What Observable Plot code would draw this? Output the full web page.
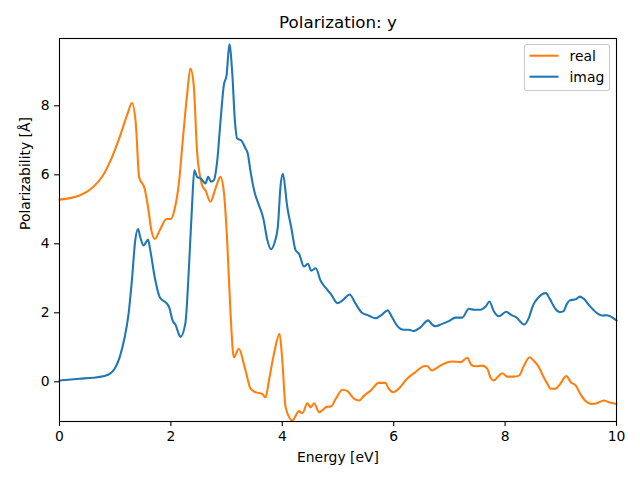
<!DOCTYPE html>
<html>
<head>
<meta charset="utf-8">
<script src="https://cdn.jsdelivr.net/npm/d3@7"></script>
<script src="https://cdn.jsdelivr.net/npm/@observablehq/plot@0.6"></script>
<style>
  html, body { margin: 0; padding: 0; background: #ffffff; }
  #chart { width: 640px; height: 480px; }
</style>
</head>
<body>
<div id="chart"></div>
<script>
const titleText = "Polarization: y";
const xLabelText = "Energy [eV]";
const yLabelText = "Polarizability [Å]";
const seriesNames = ["real", "imag"];
const seriesColors = ["#ff7f0e", "#1f77b4"];
const xTicks = [0, 2, 4, 6, 8, 10];
const yTicks = [0, 2, 4, 6, 8];

const energyReal = [0, 0.36, 0.60, 0.78, 0.93, 1.08, 1.23, 1.30, 1.37, 1.43, 1.53, 1.59, 1.65, 1.71, 1.80, 1.92, 2.00, 2.06, 2.15, 2.20, 2.29, 2.35, 2.41, 2.47, 2.56, 2.62, 2.71, 2.80, 2.89, 2.95, 3.01, 3.07, 3.13, 3.22, 3.31, 3.37, 3.43, 3.52, 3.64, 3.70, 3.76, 3.85, 3.95, 4.00, 4.06, 4.18, 4.30, 4.36, 4.45, 4.51, 4.57, 4.66, 4.81, 4.87, 4.96, 5.08, 5.17, 5.29, 5.38, 5.47, 5.59, 5.73, 5.85, 5.91, 5.99, 6.09, 6.24, 6.39, 6.54, 6.60, 6.68, 6.75, 6.87, 7.05, 7.20, 7.32, 7.39, 7.47, 7.59, 7.68, 7.74, 7.80, 7.86, 7.95, 8.04, 8.16, 8.25, 8.34, 8.44, 8.52, 8.59, 8.67, 8.76, 8.82, 8.90, 8.99, 9.10, 9.18, 9.27, 9.35, 9.47, 9.56, 9.65, 9.77, 9.86, 10.0];
const valuesReal = [5.28, 5.40, 5.64, 5.98, 6.46, 7.09, 7.81, 8.08, 7.48, 5.93, 5.59, 5.06, 4.39, 4.14, 4.39, 4.72, 4.72, 4.96, 5.85, 6.76, 8.31, 9.08, 8.60, 6.67, 5.70, 5.55, 5.22, 5.60, 5.94, 5.51, 4.10, 2.00, 0.71, 0.96, 0.52, 0.13, -0.20, -0.30, -0.35, -0.45, 0.04, 0.81, 1.39, 0.62, -0.74, -1.12, -0.85, -0.91, -0.62, -0.74, -0.62, -0.88, -0.72, -0.72, -0.49, -0.23, -0.27, -0.49, -0.54, -0.40, -0.25, -0.03, -0.03, -0.20, -0.30, -0.20, 0.09, 0.28, 0.45, 0.46, 0.33, 0.38, 0.50, 0.59, 0.57, 0.70, 0.50, 0.45, 0.47, 0.38, 0.12, 0.04, 0.13, 0.25, 0.15, 0.15, 0.18, 0.47, 0.71, 0.60, 0.47, 0.21, -0.06, -0.20, -0.20, -0.06, 0.17, -0.01, -0.11, -0.35, -0.59, -0.64, -0.62, -0.54, -0.59, -0.64];

const energyImag = [0, 0.36, 0.60, 0.78, 0.90, 0.99, 1.08, 1.17, 1.24, 1.30, 1.36, 1.41, 1.45, 1.51, 1.59, 1.63, 1.71, 1.80, 1.92, 1.97, 2.03, 2.09, 2.14, 2.17, 2.26, 2.32, 2.38, 2.42, 2.47, 2.54, 2.62, 2.67, 2.72, 2.77, 2.83, 2.89, 2.95, 3.00, 3.05, 3.10, 3.15, 3.19, 3.26, 3.34, 3.38, 3.43, 3.50, 3.58, 3.66, 3.73, 3.80, 3.86, 3.92, 3.97, 4.01, 4.09, 4.16, 4.24, 4.30, 4.39, 4.46, 4.52, 4.60, 4.69, 4.78, 4.87, 4.99, 5.08, 5.21, 5.31, 5.43, 5.55, 5.67, 5.79, 5.89, 5.97, 6.06, 6.18, 6.27, 6.36, 6.48, 6.62, 6.69, 6.75, 6.87, 6.99, 7.11, 7.23, 7.35, 7.44, 7.56, 7.65, 7.72, 7.79, 7.89, 8.02, 8.11, 8.20, 8.34, 8.43, 8.50, 8.59, 8.73, 8.80, 8.90, 8.98, 9.05, 9.11, 9.16, 9.27, 9.34, 9.41, 9.53, 9.65, 9.74, 9.83, 9.92, 10.0];
const valuesImag = [0.04, 0.09, 0.12, 0.16, 0.23, 0.38, 0.71, 1.29, 1.97, 2.94, 4.10, 4.43, 4.19, 3.95, 4.12, 3.81, 3.03, 2.45, 2.28, 2.16, 1.78, 1.63, 1.39, 1.30, 1.70, 3.19, 5.12, 6.13, 5.94, 5.89, 5.75, 5.94, 5.80, 5.84, 6.38, 7.54, 8.60, 8.89, 9.78, 8.99, 7.54, 7.05, 7.00, 6.76, 6.62, 6.09, 5.51, 5.12, 4.73, 4.12, 3.84, 4.03, 4.50, 5.70, 6.03, 5.06, 4.48, 3.81, 3.71, 3.34, 3.42, 3.22, 3.29, 2.92, 2.72, 2.55, 2.28, 2.36, 2.53, 2.28, 2.00, 1.92, 1.84, 1.95, 2.07, 1.87, 1.63, 1.51, 1.51, 1.47, 1.58, 1.78, 1.66, 1.61, 1.68, 1.76, 1.86, 1.86, 2.12, 2.09, 2.09, 2.18, 2.33, 2.07, 1.90, 2.03, 1.94, 1.87, 1.66, 1.87, 2.21, 2.43, 2.57, 2.41, 2.12, 2.02, 2.05, 2.26, 2.36, 2.39, 2.47, 2.41, 2.18, 1.99, 1.92, 1.93, 1.87, 1.78];

const realData = energyReal.map((e, i) => ({ e, v: valuesReal[i] }));
const imagData = energyImag.map((e, i) => ({ e, v: valuesImag[i] }));

const font = "'DejaVu Sans', sans-serif";

const chart = Plot.plot({
  width: 640,
  height: 480,
  marginTop: 38,
  marginBottom: 59,
  marginLeft: 59,
  marginRight: 24,
  style: { fontFamily: font, fontSize: "13.9px", color: "#000000", background: "#ffffff" },
  x: { domain: [0, 10] },
  y: { domain: [-1.15, 9.95] },
  marks: [
    Plot.line(realData, { x: "e", y: "v", stroke: seriesColors[0], strokeWidth: 2.08, curve: "monotone-x" }),
    Plot.line(imagData, { x: "e", y: "v", stroke: seriesColors[1], strokeWidth: 2.08, curve: "monotone-x" }),
    Plot.frame({ stroke: "#000000", strokeWidth: 1.1 }),
    Plot.axisX({ ticks: xTicks, tickSize: 4.9, tickPadding: 4.9, tickFormat: d => String(d), label: null, fontSize: 13.9, strokeWidth: 1.1 }),
    Plot.axisY({ ticks: yTicks, tickSize: 4.9, tickPadding: 4.9, tickFormat: d => String(d), label: null, fontSize: 13.9, strokeWidth: 1.1 }),
    Plot.text([titleText], { frameAnchor: "top", dy: -16, fontSize: 16.7, lineAnchor: "middle", fill: "#000000" }),
    Plot.text([xLabelText], { frameAnchor: "bottom", dy: 36, fontSize: 13.9, lineAnchor: "middle", fill: "#000000" }),
    Plot.text([yLabelText], { frameAnchor: "left", dx: -34, rotate: -90, fontSize: 13.9, lineAnchor: "middle", fill: "#000000" })
  ]
});

document.getElementById("chart").appendChild(chart);

// Legend (upper right, matplotlib style)
const svg = d3.select(chart);
const lg = svg.append("g").attr("font-family", font).attr("font-size", 13.9).attr("text-anchor", "start");
lg.append("rect")
  .attr("x", 524.5).attr("y", 44.5).attr("width", 85).attr("height", 46)
  .attr("rx", 2.5).attr("fill", "#ffffff").attr("fill-opacity", 0.8)
  .attr("stroke", "#cccccc").attr("stroke-width", 1.1);
seriesNames.forEach((name, i) => {
  const cy = 55.7 + i * 21;
  lg.append("line")
    .attr("x1", 529.5).attr("x2", 558.5).attr("y1", cy).attr("y2", cy)
    .attr("stroke", seriesColors[i]).attr("stroke-width", 2.08);
  lg.append("text")
    .attr("x", 569.5).attr("y", cy).attr("dy", "0.35em")
    .attr("text-anchor", "start")
    .attr("fill", "#000000").text(name);
});
</script>
</body>
</html>
